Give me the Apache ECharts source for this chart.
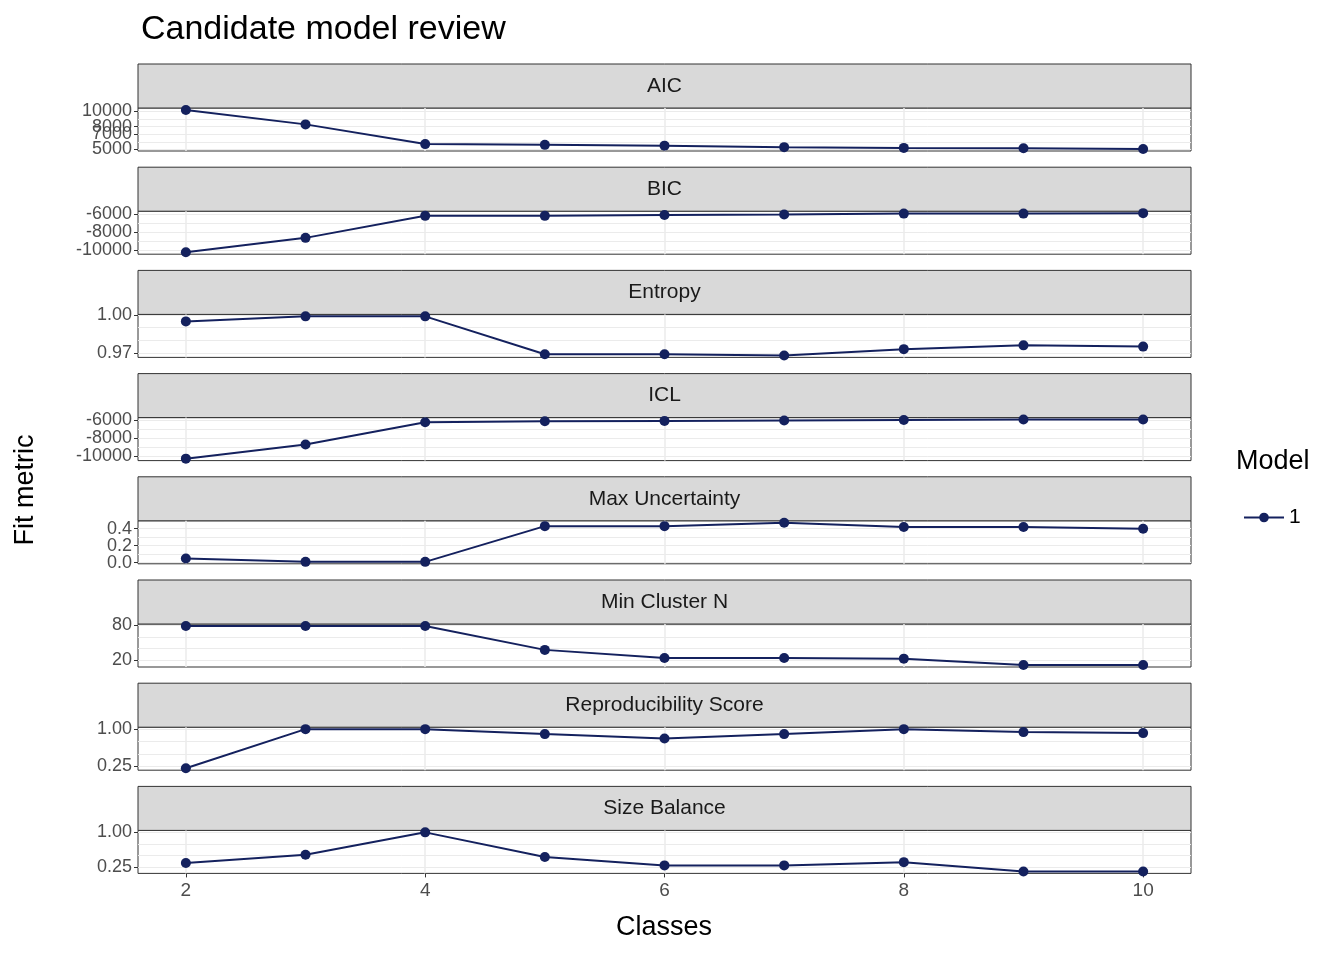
<!DOCTYPE html>
<html>
<head>
<meta charset="utf-8">
<script src="https://cdn.jsdelivr.net/npm/echarts@6/dist/echarts.min.js"></script>
<style>html,body{margin:0;padding:0;background:#fff}#chart{width:1344px;height:960px}</style>
</head>
<body>
<div id="chart"></div>
<script>
const classes = [2, 3, 4, 5, 6, 7, 8, 9, 10];
const panels = ['AIC', 'BIC', 'Entropy', 'ICL', 'Max Uncertainty', 'Min Cluster N', 'Reproducibility Score', 'Size Balance'];

const aic = [10200, 8300, 5700, 5600, 5500, 5300, 5200, 5150, 5050];
const bic = [-10200, -8600, -6150, -6150, -6050, -6000, -5900, -5900, -5850];
const entropy = [0.995, 0.999, 0.999, 0.969, 0.969, 0.968, 0.973, 0.976, 0.975];
const icl = [-10300, -8700, -6200, -6100, -6050, -6000, -5950, -5900, -5900];
const maxUncertainty = [0.05, 0.01, 0.01, 0.43, 0.43, 0.47, 0.42, 0.42, 0.40];
const minClusterN = [79, 79, 79, 38, 24, 24, 23, 12, 12];
const reproducibility = [0.21, 1.0, 1.0, 0.9, 0.81, 0.9, 1.0, 0.94, 0.92];
const sizeBalance = [0.34, 0.52, 1.0, 0.47, 0.29, 0.29, 0.36, 0.16, 0.16];

const panelValues = [aic, bic, entropy, icl, maxUncertainty, minClusterN, reproducibility, sizeBalance];
const panelTicks = [
    [5000, 6000, 7000, 8000, 9000, 10000],
    [-10000, -9000, -8000, -7000, -6000],
    [0.97, 0.98, 0.99, 1.00],
    [-10000, -9000, -8000, -7000, -6000],
    [0, 0.1, 0.2, 0.3, 0.4, 0.5],
    [20, 40, 60, 80],
    [0.25, 0.5, 0.75, 1.0],
    [0.25, 0.5, 0.75, 1.0]
];
const tickDigits = [0, 0, 2, 0, 1, 0, 2, 2];
const xTicks = [2, 4, 6, 8, 10];

const chart = echarts.init(document.getElementById('chart'));
const LEFT = 138, RIGHT = 153, FIRST_TOP = 108, STEP = 103.2, PLOT_H = 43, STRIP_H = 44;
const LINE = '#14215e';

const grids = [], xAxes = [], yAxes = [], series = [], graphics = [];
panels.forEach((name, i) => {
    const top = FIRST_TOP + i * STEP;
    const vals = panelValues[i];
    const lo = Math.min(...vals), hi = Math.max(...vals);
    const pad = (hi - lo) * 0.05;
    const last = i === panels.length - 1;
    grids.push({ left: LEFT, right: RIGHT, top: top, height: PLOT_H, show: true, borderColor: '#333', borderWidth: 1, backgroundColor: '#fff' });
    xAxes.push({
        type: 'value', gridIndex: i, min: 1.6, max: 10.4,
        axisLine: { show: false },
        axisTick: { show: last, customValues: xTicks, length: 4, lineStyle: { color: '#333' } },
        axisLabel: { show: last, customValues: xTicks, color: '#4d4d4d', fontSize: 19, margin: 8, fontFamily: 'Liberation Sans' },
        splitLine: { show: true, lineStyle: { color: '#ebebeb', width: 1.5 } }
    });
    yAxes.push({
        type: 'value', gridIndex: i, min: lo - pad, max: hi + pad,
        axisLine: { show: false },
        axisTick: { show: true, customValues: panelTicks[i], length: 4, lineStyle: { color: '#333' } },
        axisLabel: { customValues: panelTicks[i], color: '#4d4d4d', fontSize: 18, margin: 6, fontFamily: 'Liberation Sans',
            hideOverlap: false, showMinLabel: true, showMaxLabel: true,
            formatter: (v) => Number(v).toFixed(tickDigits[i]) },
        splitNumber: 8,
        splitLine: { show: true, lineStyle: { color: '#ebebeb', width: 1 } }
    });
    series.push({
        name: '1', type: 'line', xAxisIndex: i, yAxisIndex: i,
        data: classes.map((c, k) => [c, vals[k]]),
        symbol: 'circle', symbolSize: 10, itemStyle: { color: LINE },
        lineStyle: { color: LINE, width: 2 }, z: 5
    });
    graphics.push({
        type: 'rect', shape: { x: LEFT, y: top - STRIP_H, width: 1344 - LEFT - RIGHT, height: STRIP_H },
        style: { fill: '#d9d9d9', stroke: '#333', lineWidth: 1 }
    });
    graphics.push({
        type: 'text', x: LEFT + (1344 - LEFT - RIGHT) / 2, y: top - STRIP_H / 2,
        style: { text: name, fill: '#1a1a1a', font: '21px Liberation Sans', align: 'center', verticalAlign: 'middle' }
    });
});

graphics.push({ type: 'text', x: 1236, y: 462, style: { text: 'Model', fill: '#000', font: '27px Liberation Sans', verticalAlign: 'middle' } });

chart.setOption({
    animation: false,
    title: { text: 'Candidate model review', left: 136, top: 8, textStyle: { fontSize: 34, fontWeight: 'normal', color: '#000', fontFamily: 'Liberation Sans' } },
    legend: { data: ['1'], left: 1238, top: 502, orient: 'vertical', itemWidth: 40, itemHeight: 12, itemGap: 10,
        textStyle: { fontSize: 21, color: '#000', fontFamily: 'Liberation Sans' } },
    grid: grids, xAxis: xAxes, yAxis: yAxes, series: series,
    graphic: graphics.concat([
        { type: 'text', x: 664, y: 928, style: { text: 'Classes', fill: '#000', font: '27px Liberation Sans', align: 'center', verticalAlign: 'middle' } },
        { type: 'text', x: 26, y: 490, rotation: Math.PI / 2, style: { text: 'Fit metric', fill: '#000', font: '27px Liberation Sans', align: 'center', verticalAlign: 'middle' } }
    ])
});
</script>
</body>
</html>
